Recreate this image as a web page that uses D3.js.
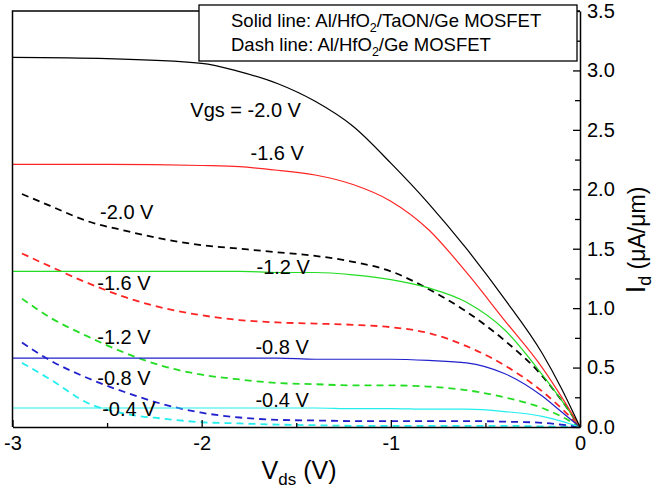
<!DOCTYPE html>
<html>
<head>
<meta charset="utf-8">
<script src="https://cdn.jsdelivr.net/npm/d3@7"></script>
<style>
  body { margin: 0; background: #fff; }
  svg { display: block; font-family: Arial, "Liberation Sans", sans-serif; }
</style>
</head>
<body>
<div class="graph-pane"></div>
<script>
// Vds grids (V)
const vdsSolid = [-3, -2.5, -2, -1.8, -1.6, -1.4, -1.2, -1, -0.8, -0.6, -0.4, -0.2, -0.1, 0];
const vdsDash = [-2.95, -2.8, -2.6, -2.4, -2.2, -2.0, -1.8, -1.6, -1.4, -1.2, -1.0, -0.8, -0.6, -0.4, -0.2, -0.1, 0];

// Id (uA/um), solid = Al/HfO2/TaON/Ge
const solid20 = [3.11, 3.10, 3.06, 2.99, 2.89, 2.74, 2.53, 2.22, 1.88, 1.50, 1.08, 0.62, 0.33, 0];
const solid16 = [2.21, 2.21, 2.20, 2.19, 2.16, 2.12, 2.04, 1.90, 1.66, 1.30, 0.90, 0.50, 0.26, 0];
const solid12 = [1.31, 1.31, 1.31, 1.31, 1.30, 1.30, 1.28, 1.24, 1.17, 1.05, 0.82, 0.44, 0.23, 0];
const solid08 = [0.58, 0.58, 0.58, 0.58, 0.58, 0.57, 0.57, 0.57, 0.56, 0.54, 0.45, 0.26, 0.13, 0];
const solid04 = [0.16, 0.16, 0.16, 0.16, 0.16, 0.16, 0.155, 0.155, 0.15, 0.15, 0.13, 0.09, 0.05, 0];

// dash = Al/HfO2/Ge
const dash20 = [1.96, 1.86, 1.73, 1.65, 1.58, 1.53, 1.50, 1.47, 1.44, 1.39, 1.31, 1.16, 0.97, 0.73, 0.43, 0.23, 0];
const dash16 = [1.46, 1.35, 1.21, 1.09, 1.00, 0.94, 0.90, 0.88, 0.87, 0.86, 0.84, 0.79, 0.68, 0.52, 0.30, 0.16, 0];
const dash12 = [1.08, 0.92, 0.76, 0.62, 0.51, 0.44, 0.40, 0.37, 0.36, 0.35, 0.35, 0.34, 0.31, 0.25, 0.16, 0.09, 0];
const dash08 = [0.71, 0.56, 0.41, 0.29, 0.19, 0.12, 0.08, 0.06, 0.055, 0.05, 0.05, 0.05, 0.05, 0.045, 0.035, 0.02, 0];
const dash04 = [0.54, 0.40, 0.20, 0.11, 0.07, 0.04, 0.03, 0.02, 0.015, 0.01, 0.01, 0.01, 0.01, 0.01, 0.005, 0.003, 0];

const xTicks = [-3, -2, -1, 0];
const xMinor = [-2.5, -1.5, -0.5];
const yTicks = [0, 0.5, 1, 1.5, 2, 2.5, 3, 3.5];
const yMinor = [0.25, 0.75, 1.25, 1.75, 2.25, 2.75, 3.25];

// curve labels: text, vds, id (left baseline)
const labelText = ["Vgs = -2.0 V", "-1.6 V", "-2.0 V", "-1.2 V", "-1.6 V", "-1.2 V", "-0.8 V", "-0.8 V", "-0.4 V", "-0.4 V"];
const labelVds  = [-2.06, -1.742, -2.537, -1.71, -2.552, -2.552, -1.716, -2.552, -1.716, -2.526];
const labelId   = [2.61, 2.25, 1.75, 1.29, 1.15, 0.70, 0.61, 0.35, 0.17, 0.09];

const colors = { "20": "#000000", "16": "#ff2424", "12": "#22dd22", "08": "#2020cc", "04": "#22eeee" };

const width = 660, height = 491;
const plot = { left: 12.5, right: 580, top: 11, bottom: 427 };

const xScale = d3.scaleLinear().domain([-3, 0]).range([plot.left, plot.right]);
const yScale = d3.scaleLinear().domain([0, 3.5]).range([plot.bottom, plot.top]);

const svg = d3.select('.graph-pane')
  .append('svg')
  .attr('width', width)
  .attr('height', height);

const line = d3.line()
  .x(d => xScale(d[0]))
  .y(d => yScale(d[1]))
  .curve(d3.curveMonotoneX);

function placeLine(xs, ys, color, dashed) {
  const pts = xs.map((x, i) => [x, ys[i]]);
  svg.append('path')
    .attr('fill', 'none')
    .attr('stroke', color)
    .attr('stroke-width', dashed ? 1.8 : 1.2)
    .attr('stroke-dasharray', dashed ? '7,5' : null)
    .attr('d', line(pts));
}

// dashed first, solid on top
placeLine(vdsDash, dash04, colors["04"], true);
placeLine(vdsDash, dash08, colors["08"], true);
placeLine(vdsDash, dash12, colors["12"], true);
placeLine(vdsDash, dash16, colors["16"], true);
placeLine(vdsDash, dash20, colors["20"], true);
placeLine(vdsSolid, solid04, colors["04"], false);
placeLine(vdsSolid, solid08, colors["08"], false);
placeLine(vdsSolid, solid12, colors["12"], false);
placeLine(vdsSolid, solid16, colors["16"], false);
placeLine(vdsSolid, solid20, colors["20"], false);

// frame: left and top edges
svg.append('path')
  .attr('fill', 'none')
  .attr('stroke', '#000')
  .attr('stroke-width', 1.5)
  .attr('d', `M${plot.left},${plot.bottom}V${plot.top}H${plot.right}`);

// bottom axis, ticks pointing inward
const xAxis = d3.axisBottom(xScale).tickValues(xTicks)
  .tickFormat(d => String(d)).tickSizeInner(-7).tickSizeOuter(0).tickPadding(9);
const gx = svg.append('g')
  .attr('transform', 'translate(0,' + plot.bottom + ')')
  .call(xAxis);
svg.append('g')
  .attr('transform', 'translate(0,' + plot.bottom + ')')
  .call(d3.axisBottom(xScale).tickValues(xMinor).tickFormat('').tickSizeInner(-4).tickSizeOuter(0))
  .select('.domain').remove();

// right axis, ticks pointing inward
const yAxis = d3.axisRight(yScale).tickValues(yTicks)
  .tickFormat(d3.format('.1f')).tickSizeInner(-7).tickSizeOuter(0).tickPadding(7);
const gy = svg.append('g')
  .attr('transform', 'translate(' + plot.right + ',0)')
  .call(yAxis);
svg.append('g')
  .attr('transform', 'translate(' + plot.right + ',0)')
  .call(d3.axisRight(yScale).tickValues(yMinor).tickFormat('').tickSizeInner(-5).tickSizeOuter(0))
  .select('.domain').remove();

svg.selectAll('.domain').attr('stroke-width', 1.5);
svg.selectAll('.tick line').attr('stroke-width', 1.3);
[gx, gy].forEach(g => g.selectAll('text')
  .attr('font-family', 'Arial, "Liberation Sans", sans-serif')
  .attr('font-size', 20)
  .attr('fill', '#000'));

// curve labels
svg.append('g').selectAll('text')
  .data(labelText)
  .join('text')
  .attr('x', (d, i) => xScale(labelVds[i]))
  .attr('y', (d, i) => yScale(labelId[i]))
  .attr('font-size', 20)
  .text(d => d);

// axis titles
const xt = svg.append('text')
  .attr('x', 299)
  .attr('y', 479)
  .attr('text-anchor', 'middle')
  .attr('font-size', 25);
xt.append('tspan').text('V');
xt.append('tspan').attr('font-size', 17).attr('dy', 6).text('ds');
xt.append('tspan').attr('dy', -6).text(' (V)');

const yt = svg.append('text')
  .attr('transform', 'translate(645,240) rotate(-90)')
  .attr('text-anchor', 'middle')
  .attr('font-size', 27);
yt.append('tspan').text('I');
yt.append('tspan').attr('font-size', 18).attr('dy', 6).text('d');
yt.append('tspan').attr('dy', -6).attr('font-size', 23).text(' (\u03bcA/\u03bcm)');

// legend box
const legend = svg.append('g');
legend.append('rect')
  .attr('x', 199).attr('y', 5)
  .attr('width', 378).attr('height', 56)
  .attr('fill', '#fff')
  .attr('stroke', '#000')
  .attr('stroke-width', 1.3);
const l1 = legend.append('text').attr('x', 231).attr('y', 27).attr('font-size', 18.5);
l1.append('tspan').text('Solid line: Al/HfO');
l1.append('tspan').attr('font-size', 12.5).attr('dy', 5).text('2');
l1.append('tspan').attr('dy', -5).text('/TaON/Ge MOSFET');
const l2 = legend.append('text').attr('x', 231).attr('y', 51).attr('font-size', 18.5);
l2.append('tspan').text('Dash line: Al/HfO');
l2.append('tspan').attr('font-size', 12.5).attr('dy', 5).text('2');
l2.append('tspan').attr('dy', -5).text('/Ge MOSFET');
</script>
</body>
</html>
